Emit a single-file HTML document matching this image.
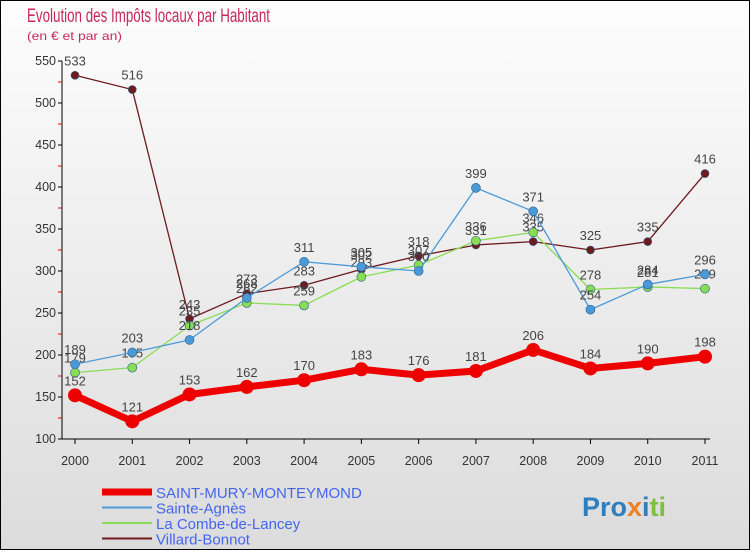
<!DOCTYPE html>
<html><head><meta charset="utf-8"><style>
body{margin:0;width:750px;height:550px;overflow:hidden;font-family:"Liberation Sans",sans-serif}
</style></head><body>
<svg id="c" width="750" height="550" xmlns="http://www.w3.org/2000/svg">
<defs><linearGradient id="bg" x1="0" y1="0" x2="0" y2="1"><stop offset="0" stop-color="#fdfdfd"/><stop offset="1" stop-color="#dcdcdc"/></linearGradient></defs>
<rect x="0.5" y="0.5" width="749" height="549" fill="url(#bg)" stroke="#000"/>
<text x="27" y="22" font-size="19" fill="#c8285a" textLength="243" lengthAdjust="spacingAndGlyphs">Evolution des Impôts locaux par Habitant</text>
<text x="27" y="40" font-size="12" fill="#c8285a" textLength="95" lengthAdjust="spacingAndGlyphs">(en € et par an)</text>
<g id="axes"></g><g id="series"></g><g id="legend"></g>
<text x="582" y="516" font-size="27" font-weight="bold"><tspan fill="#2e7fc0">Pro</tspan><tspan fill="#f08020">x</tspan><tspan fill="#2e7fc0">i</tspan><tspan fill="#80c040">ti</tspan></text>
</svg>
<script>
const years=["2000","2001","2002","2003","2004","2005","2006","2007","2008","2009","2010","2011"];
const yTicks=[100,150,200,250,300,350,400,450,500,550];
const stMury=[152,121,153,162,170,183,176,181,206,184,190,198];
const agnes=[189,203,218,268,311,305,300,399,371,254,284,296];
const combe=[179,185,235,262,259,293,307,336,346,278,281,279];
const villard=[533,516,243,273,283,302,318,331,335,325,335,416];
const NS="http://www.w3.org/2000/svg";
const X=i=>75+i*(630/11), Y=v=>439-(v-100)*(378/450);
function mk(t,a,p){const e=document.createElementNS(NS,t);for(const k in a)e.setAttribute(k,a[k]);p.appendChild(e);return e;}
const ax=document.getElementById('axes');
let e=mk('line',{x1:62,y1:61,x2:62,y2:439,stroke:'#000'},ax);


e=mk('line',{x1:62,y1:439,x2:710,y2:439,stroke:'#000'},ax);


yTicks.forEach((v,i)=>{
 mk('line',{x1:58,y1:Y(v),x2:62,y2:Y(v),stroke:'#000'},ax);
 if(i<yTicks.length-1)mk('line',{x1:58,y1:Y(v+25),x2:62,y2:Y(v+25),stroke:'#e00'},ax);
 const t=mk('text',{x:56,y:Y(v)+4,'font-size':12.5,'text-anchor':'end',fill:'#333'},ax);t.textContent=v;
 
 
});
years.forEach((y,i)=>{
 mk('line',{x1:X(i),y1:439,x2:X(i),y2:444,stroke:'#000'},ax);
 const t=mk('text',{x:X(i),y:465,'font-size':12.5,'text-anchor':'middle',fill:'#333'},ax);t.textContent=y;
 
 
});
const S=document.getElementById('series');
const series=[
 {name:'villard-bonnot',d:villard,c:'#6e1a1e',w:1.3,r:4},
 {name:'la-combe-de-lancey',d:combe,c:'#88dd55',w:1.3,r:4.5},
 {name:'sainte-agnes',d:agnes,c:'#4a9ad8',w:1.3,r:4.5},
 {name:'saint-mury-monteymond',d:stMury,c:'#ee0000',w:7,r:7}];
series.forEach(s=>{
 const g=mk('g',{},S);
 
 
 const p=mk('polyline',{points:s.d.map((v,i)=>X(i)+','+Y(v)).join(' '),fill:'none',stroke:s.c,'stroke-width':s.w,'stroke-linejoin':'round'},g);
 
 
 s.d.forEach((v,i)=>{
  const c=mk('circle',{cx:X(i),cy:Y(v),r:s.r,fill:s.c,stroke:s.r<7?'#2c5f8a':'none','stroke-width':s.r<7?0.6:0},g);
  
  
  const t=mk('text',{x:X(i),y:Y(v)-10,'font-size':13,'text-anchor':'middle',fill:'#444'},g);t.textContent=v;
  
  
 });
});
const L=document.getElementById('legend');
const leg=[['SAINT-MURY-MONTEYMOND','#ee0000',7],['Sainte-Agnès','#4a9ad8',2],['La Combe-de-Lancey','#88dd55',2],['Villard-Bonnot','#6e1a1e',2]];
leg.forEach((l,i)=>{
 const y=492+i*15.5;
 const ln=mk('line',{x1:102,y1:y,x2:152,y2:y,stroke:l[1],'stroke-width':l[2]},L);
 
 
 const t=mk('text',{x:156,y:y+6,'font-size':15,fill:'#4466ee'},L);t.textContent=l[0];
 
 
});
</script>
</body></html>
